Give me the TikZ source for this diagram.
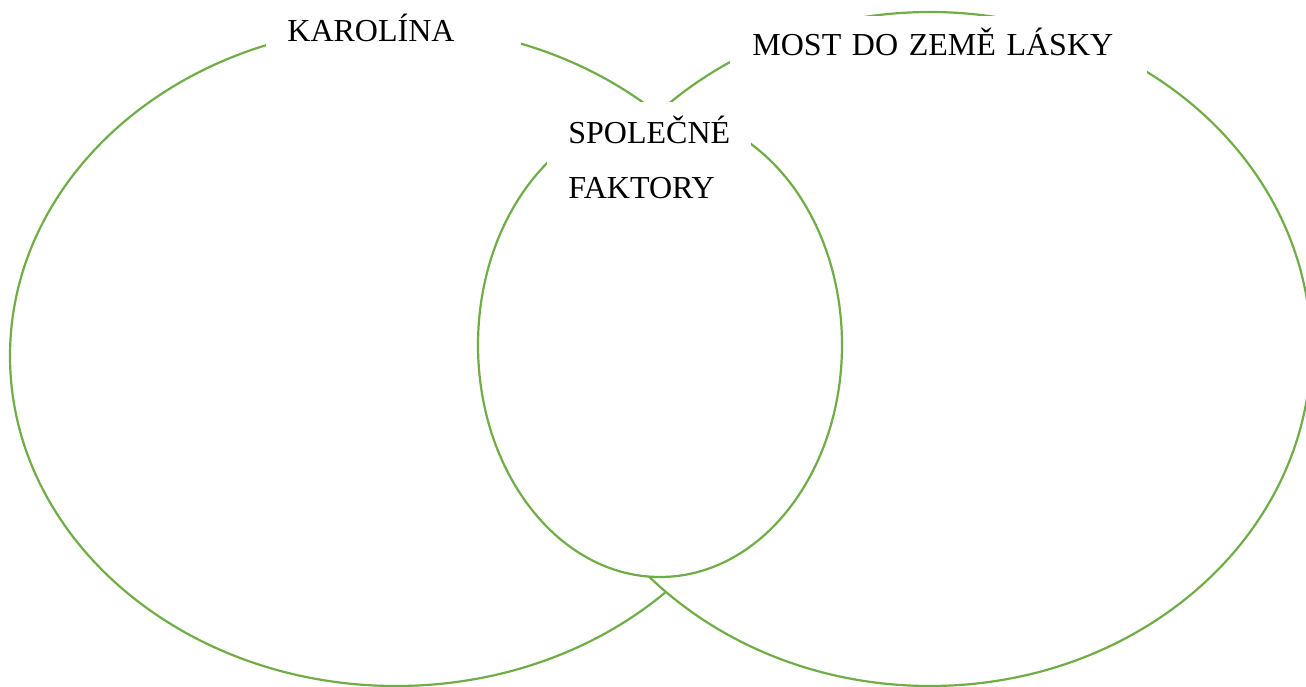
\documentclass[tikz,border=0pt]{standalone}
\usepackage{fontspec}
\setmainfont{Liberation Serif}
\definecolor{vennGreen}{HTML}{70AD47}
\tikzset{ring/.style = {draw = vennGreen, line width = 1.1pt, fill = white}}
\tikzset{tag/.style = {fill = white, inner ysep = 0pt, align = left, font = \fontsize{16}{27.5}\selectfont}}

\begin{document}
\begin{tikzpicture}[x = 0.5pt, y = -0.5pt]
\useasboundingbox (0,0) rectangle (1306,686);
\coordinate (L) at (396,356);
\coordinate (R) at (930,349);
\coordinate (M) at (660,345);
\draw[ring] (L) ellipse [x radius = 386, y radius = 330];
\draw[ring] (R) ellipse [x radius = 381, y radius = 337];
\draw[ring] (M) ellipse [x radius = 182, y radius = 232];
\node[tag, inner xsep = 10.5pt, text width = 106.5pt, text height = 20pt, text depth = 4.5pt, anchor = base west] (karolina) at (266,41) {KAROLÍNA};
\node[tag, inner xsep = 11pt, text width = 186.5pt, text height = 19.75pt, text depth = 11.5pt, anchor = base west] (most) at (730,55) {MOST DO ZEMĚ LÁSKY};
\node[tag, inner xsep = 10.5pt, anchor = north west] (common) at (547,102) {\rule{0pt}{20.5pt}SPOLEČNÉ\\FAKTORY\rule[-8pt]{0pt}{8pt}};
\end{tikzpicture}
\end{document}
